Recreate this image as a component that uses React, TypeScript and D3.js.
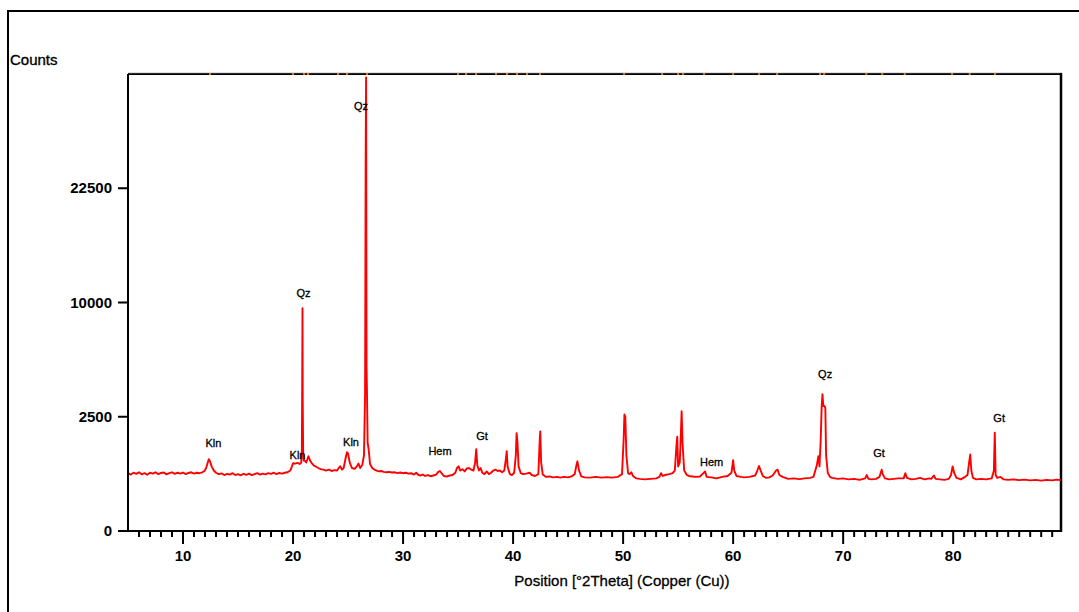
import React from "react";
import * as d3 from "d3";

// 2θ positions (degrees) and counts
const twoTheta: number[] = [
  5.0, 5.25, 5.5, 5.75, 6.0, 6.25, 6.5, 6.75, 7.0, 7.25, 7.5, 7.75, 8.0, 8.25, 8.5, 8.75, 9.0, 9.25, 9.5, 9.75,
  10.0, 10.25, 10.5, 10.75, 11.0, 11.25, 11.5, 11.75, 11.95, 12.1, 12.25, 12.35, 12.45, 12.6, 12.8, 13.0, 13.25, 13.5, 13.75,
  14.0, 14.25, 14.5, 14.75, 15.0, 15.25, 15.5, 15.75, 16.0, 16.25, 16.5, 16.75, 17.0, 17.25, 17.5, 17.75, 18.0, 18.25,
  18.5, 18.75, 19.0, 19.25, 19.5, 19.75, 19.9, 20.0, 20.2, 20.4, 20.6, 20.75, 20.8, 20.83, 20.86, 20.88, 20.92, 20.98,
  21.05, 21.2, 21.4, 21.55, 21.7, 21.9, 22.1, 22.3, 22.5, 22.75, 23.0, 23.25, 23.5, 23.75, 24.0, 24.2, 24.3, 24.45,
  24.6, 24.8, 24.9, 25.0, 25.15, 25.35, 25.6, 25.8, 25.95, 26.1, 26.3, 26.45, 26.55, 26.6, 26.64, 26.68, 26.72, 26.78,
  26.88, 27.0, 27.2, 27.4, 27.6, 27.8, 28.0, 28.25, 28.5, 28.75, 29.0, 29.25, 29.5, 29.75, 30.0, 30.25, 30.5, 30.75,
  31.0, 31.2, 31.4, 31.6, 31.8, 32.0, 32.25, 32.5, 32.75, 33.0, 33.2, 33.35, 33.5, 33.7, 34.0, 34.25, 34.5, 34.75,
  34.9, 35.05, 35.2, 35.4, 35.6, 35.8, 36.0, 36.2, 36.4, 36.55, 36.65, 36.75, 36.9, 37.05, 37.2, 37.4, 37.6, 37.8,
  38.0, 38.2, 38.4, 38.6, 38.8, 39.0, 39.2, 39.35, 39.42, 39.5, 39.7, 39.9, 40.1, 40.25, 40.32, 40.4, 40.5, 40.7,
  40.9, 41.2, 41.5, 41.7, 42.0, 42.3, 42.4, 42.47, 42.55, 42.7, 43.0, 43.3, 43.6, 44.0, 44.3, 44.6, 45.0, 45.3,
  45.6, 45.75, 45.85, 46.0, 46.2, 46.5, 47.0, 47.5, 48.0, 48.5, 49.0, 49.5, 49.9, 50.05, 50.12, 50.2, 50.3, 50.45,
  50.6, 50.75, 50.9, 51.2, 51.5, 52.0, 52.5, 53.0, 53.3, 53.45, 53.6, 53.8, 54.2, 54.5, 54.7, 54.85, 54.92, 55.0,
  55.15, 55.25, 55.32, 55.4, 55.55, 55.8, 56.0, 56.3, 56.6, 57.0, 57.3, 57.45, 57.6, 58.0, 58.5, 59.0, 59.5, 59.85,
  60.0, 60.1, 60.3, 60.7, 61.0, 61.5, 62.0, 62.2, 62.35, 62.5, 62.7, 63.0, 63.3, 63.6, 63.9, 64.05, 64.2, 64.5,
  65.0, 65.5, 66.0, 66.5, 67.0, 67.3, 67.6, 67.75, 67.85, 67.95, 68.05, 68.12, 68.2, 68.3, 68.38, 68.45, 68.6, 68.8,
  69.0, 69.5, 70.0, 70.5, 71.0, 71.5, 72.0, 72.15, 72.3, 72.6, 73.0, 73.3, 73.5, 73.6, 73.8, 74.2, 74.6, 75.0,
  75.5, 75.65, 75.8, 76.2, 76.6, 77.0, 77.4, 77.8, 78.0, 78.25, 78.4, 78.8, 79.2, 79.6, 79.8, 79.95, 80.1, 80.3,
  80.7, 81.0, 81.3, 81.45, 81.55, 81.65, 81.8, 82.1, 82.5, 83.0, 83.5, 83.7, 83.78, 83.86, 84.0, 84.3, 84.6, 85.0,
  85.5, 86.0, 86.5, 87.0, 87.5, 88.0, 88.5, 89.0, 89.4, 89.8,
];

const counts: number[] = [
  640, 610, 650, 625, 660, 615, 640, 605, 650, 630, 660, 620, 645, 655, 615, 640, 660, 625, 650, 630,
  655, 620, 645, 660, 630, 650, 640, 660, 690, 760, 900, 990, 930, 800, 700, 650, 620, 635, 600,
  625, 610, 640, 600, 620, 595, 625, 605, 630, 600, 620, 640, 610, 630, 615, 640, 625, 650,
  620, 645, 630, 650, 660, 700, 800, 880, 870, 890, 860, 900, 1200, 3600, 9500, 3300, 1200, 950,
  950, 900, 1070, 950, 880, 820, 790, 760, 735, 720, 700, 720, 690, 710, 700, 780, 800, 720,
  760, 1050, 1190, 1150, 900, 760, 740, 800, 870, 760, 840, 1100, 3700, 25800, 39400, 5200, 3700, 1500,
  1250, 860, 760, 720, 700, 680, 690, 670, 660, 670, 655, 660, 640, 655, 640, 650, 630, 640,
  610, 650, 600, 590, 610, 580, 600, 575, 590, 610, 670, 690, 640, 580, 570, 590, 600, 650,
  760, 800, 700, 730, 680, 750, 760, 720, 700, 900, 1280, 820, 700, 760, 650, 620, 680, 620,
  650, 700, 720, 690, 700, 660, 700, 1000, 1220, 800, 620, 600, 650, 1100, 1830, 1500, 800, 640,
  620, 630, 650, 600, 580, 620, 1400, 1900, 900, 610, 560, 570, 550, 560, 545, 560, 550, 570,
  620, 820, 930, 700, 570, 550, 545, 560, 545, 555, 545, 560, 620, 1600, 2600, 2500, 1100, 640,
  620, 660, 580, 530, 520, 510, 520, 530, 560, 640, 580, 600, 620, 640, 700, 1400, 1700, 800,
  900, 1800, 2750, 1500, 700, 600, 580, 570, 560, 570, 640, 680, 560, 550, 530, 560, 580, 650,
  960, 700, 580, 560, 550, 560, 590, 700, 810, 700, 580, 540, 550, 590, 700, 720, 600, 560,
  520, 530, 515, 530, 540, 560, 820, 1070, 800, 1500, 3000, 3580, 2990, 3000, 2900, 1100, 650, 560,
  540, 520, 530, 510, 520, 500, 530, 600, 520, 510, 520, 560, 720, 620, 530, 510, 520, 530,
  530, 640, 540, 510, 520, 540, 510, 530, 520, 590, 520, 510, 500, 520, 600, 800, 640, 540,
  510, 550, 600, 900, 1120, 700, 540, 510, 520, 510, 530, 700, 1850, 600, 540, 560, 510, 500,
  510, 495, 505, 490, 500, 485, 500, 490, 505, 495,
];

// Reference-pattern markers along the top frame (2θ)
const refMarkers: number[] = [
  12.45, 20.0, 21.0, 21.36, 24.09, 24.9, 26.73, 35.0, 35.73, 36.64, 38.45, 39.45, 40.36, 41.27, 42.45,
  50.09, 53.55, 55.0, 55.45, 57.36, 60.0, 62.36, 64.0, 67.9, 68.27, 72.1, 73.55, 75.6, 79.9, 81.5, 83.8,
];

// Phase labels: text, 2θ and height (counts) at the label baseline
const labelText: string[] = ["Qz", "Qz", "Kln", "Kln", "Kln", "Hem", "Gt", "Hem", "Qz", "Gt", "Gt"];
const labelTheta: number[] = [26.18, 20.95, 12.77, 20.41, 25.27, 33.36, 37.18, 58.05, 68.36, 73.27, 84.18];
const labelCounts: number[] = [33936, 10443, 1357, 997, 1390, 1111, 1593, 813, 4503, 1053, 2286];

const yTicks: number[] = [0, 2500, 10000, 22500];
const xMajorTicks: number[] = [10, 20, 30, 40, 50, 60, 70, 80];

const W = 1079;
const H = 612;
const left = 128;
const right = 1061;
const top = 74;
const bottom = 531;

export default function App() {
  const x = d3.scaleLinear().domain([5, 89.8]).range([left, right]);
  const y = d3.scaleSqrt().domain([0, 40000]).range([bottom, top]);
  const pts: [number, number][] = twoTheta.map((t, i) => [t, counts[i]]);
  const line = d3
    .line<[number, number]>()
    .x((d) => x(d[0]))
    .y((d) => y(d[1]));
  const minor = d3.range(6, 90, 1);
  const font = "'Liberation Sans', Arial, sans-serif";

  return (
    <svg
      width={W}
      height={H}
      style={{ position: "absolute", left: 0, top: 0, background: "#fff" }}
    >
      <rect x={0} y={0} width={W} height={H} fill="#fff" />
      {/* outer frame */}
      <rect x={8} y={11} width={W + 10} height={H + 10} fill="none" stroke="#000" strokeWidth={2} />
      <text x={10} y={65} fontFamily={font} fontSize={15} fill="#000" stroke="#000" strokeWidth={0.35}>
        Counts
      </text>

      {/* top frame with reference markers */}
      <line x1={left} x2={right} y1={top} y2={top} stroke="#000" strokeWidth={2} />
      <line x1={left} x2={right + 1} y1={top - 1} y2={top - 1} stroke="#999" strokeWidth={0.6} />
      {refMarkers.map((m, i) => (
        <rect key={i} x={x(m) - 1} y={top - 1} width={2} height={2} fill="#e07a10" />
      ))}
      {/* right frame */}
      <line x1={right} x2={right} y1={top - 1} y2={bottom + 1} stroke="#000" strokeWidth={2.5} />

      {/* data line */}
      <path d={line(pts) || ""} fill="none" stroke="#ff0000" strokeWidth={1.9} strokeLinejoin="round" />

      {/* labels */}
      {labelText.map((t, i) => (
        <text
          key={i}
          x={x(labelTheta[i])}
          y={y(labelCounts[i])}
          textAnchor="middle"
          fontFamily={font}
          fontSize={11}
          fill="#000"
          stroke="#000"
          strokeWidth={0.3}
        >
          {t}
        </text>
      ))}

      {/* y axis */}
      <line x1={left} x2={left} y1={top} y2={bottom + 1} stroke="#000" strokeWidth={2} />
      {yTicks.map((v) => (
        <g key={v}>
          <line x1={left - 10} x2={left} y1={y(v)} y2={y(v)} stroke="#000" strokeWidth={2} />
          <text
            x={112}
            y={y(v) + 5}
            textAnchor="end"
            fontFamily={font}
            fontSize={15}
            fontWeight="bold"
            fill="#000"
          >
            {v}
          </text>
        </g>
      ))}

      {/* x axis */}
      <line x1={left - 1} x2={right + 1} y1={bottom} y2={bottom} stroke="#000" strokeWidth={2} />
      {minor.map((v) => (
        <line
          key={v}
          x1={x(v)}
          x2={x(v)}
          y1={bottom}
          y2={bottom + (v % 10 === 0 ? 13 : 6)}
          stroke="#000"
          strokeWidth={2}
        />
      ))}
      {xMajorTicks.map((v) => (
        <text
          key={v}
          x={x(v)}
          y={561}
          textAnchor="middle"
          fontFamily={font}
          fontSize={15}
          fontWeight="bold"
          fill="#000"
        >
          {v}
        </text>
      ))}
      <text x={622} y={586} textAnchor="middle" fontFamily={font} fontSize={15} fill="#000" stroke="#000" strokeWidth={0.3}>
        Position [°2Theta] (Copper (Cu))
      </text>
    </svg>
  );
}
